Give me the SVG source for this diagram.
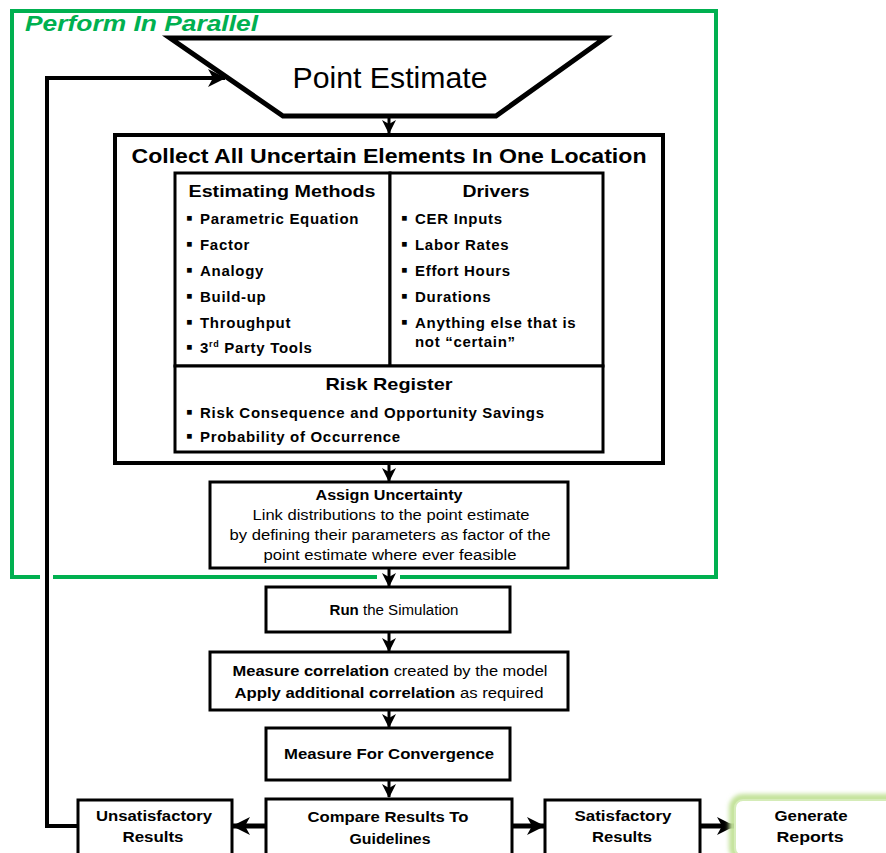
<svg xmlns="http://www.w3.org/2000/svg" width="886" height="853" viewBox="0 0 886 853">
<style>
text{font-family:"Liberation Sans",Arial,sans-serif;fill:#000}
.b{font-weight:bold}
.box{fill:#fff;stroke:#000;stroke-width:3}
.ln{fill:none;stroke:#000;stroke-width:3}
.lnb{fill:none;stroke:#000;stroke-width:5}
.c{text-anchor:middle}
.blt{font-size:15px;font-weight:bold;letter-spacing:0.7px}
.dot{font-size:19px;letter-spacing:0}
</style>
<defs>
<marker id="ah" markerUnits="userSpaceOnUse" markerWidth="14" markerHeight="14" viewBox="0 0 14 14" refX="13" refY="7" orient="auto">
<path d="M0,0 L14,7 L0,14 L4,7 z" fill="#000"/>
</marker>
<marker id="ahb" markerUnits="userSpaceOnUse" markerWidth="18" markerHeight="18" viewBox="0 0 18 18" refX="17" refY="9" orient="auto">
<path d="M0,0 L18,9 L0,18 L5,9 z" fill="#000"/>
</marker>
<filter id="glow" x="-20%" y="-30%" width="140%" height="160%">
<feGaussianBlur stdDeviation="2"/>
</filter>
</defs>

<g id="frame">
<path d="M40,577 H12 V11 H716 V577 H400 M377,577 H53" fill="none" stroke="#00B050" stroke-width="4"/>
<text x="25" y="31" class="b" font-style="italic" font-size="22" style="fill:#00B050" textLength="233" lengthAdjust="spacingAndGlyphs">Perform In Parallel</text>
</g>

<g id="connectors">
<polyline class="lnb" points="78,826 47,826 47,78 225,78" marker-end="url(#ahb)" style="stroke-width:4"/>
<line class="ln" x1="389" y1="116" x2="389" y2="133" marker-end="url(#ah)"/>
<line class="ln" x1="389" y1="463" x2="389" y2="481" marker-end="url(#ah)"/>
<line class="ln" x1="389" y1="568" x2="389" y2="586" marker-end="url(#ah)"/>
<line class="ln" x1="389" y1="632" x2="389" y2="651" marker-end="url(#ah)"/>
<line class="ln" x1="389" y1="710" x2="389" y2="727" marker-end="url(#ah)"/>
<line class="ln" x1="389" y1="780" x2="389" y2="797" marker-end="url(#ah)"/>
<line class="lnb" x1="266" y1="826" x2="233" y2="826" marker-end="url(#ahb)"/>
<line class="lnb" x1="512" y1="826" x2="544" y2="826" marker-end="url(#ahb)"/>
<line class="lnb" x1="700" y1="826" x2="734" y2="826" marker-end="url(#ahb)"/>
</g>

<g id="point-estimate">
<polygon points="170,38 605,38 496,116 283,116" fill="#fff" stroke="#000" stroke-width="5" stroke-linejoin="miter"/>
<text x="390" y="88" class="c" font-size="30" textLength="195" lengthAdjust="spacingAndGlyphs">Point Estimate</text>
</g>

<g id="collect">
<rect x="115" y="135" width="548" height="328" fill="#fff" stroke="#000" stroke-width="4"/>
<text x="389" y="163" class="c b" font-size="20" textLength="515" lengthAdjust="spacingAndGlyphs">Collect All Uncertain Elements In One Location</text>
</g>

<g id="estimating-methods">
<rect x="175" y="173" width="215" height="193" class="box"/>
<text x="282" y="197" class="c b" font-size="17" textLength="187" lengthAdjust="spacingAndGlyphs">Estimating Methods</text>
<text x="186" y="224" class="blt"><tspan class="dot">▪</tspan><tspan x="200">Parametric Equation</tspan></text>
<text x="186" y="250" class="blt"><tspan class="dot">▪</tspan><tspan x="200">Factor</tspan></text>
<text x="186" y="276" class="blt"><tspan class="dot">▪</tspan><tspan x="200">Analogy</tspan></text>
<text x="186" y="302" class="blt"><tspan class="dot">▪</tspan><tspan x="200">Build-up</tspan></text>
<text x="186" y="328" class="blt"><tspan class="dot">▪</tspan><tspan x="200">Throughput</tspan></text>
<text x="186" y="353" class="blt"><tspan class="dot">▪</tspan><tspan x="200">3</tspan><tspan font-size="9" dy="-6">rd</tspan><tspan dy="6"> Party Tools</tspan></text>
</g>

<g id="drivers">
<rect x="390" y="173" width="213" height="193" class="box"/>
<text x="496" y="197" class="c b" font-size="17" textLength="67" lengthAdjust="spacingAndGlyphs">Drivers</text>
<text x="401" y="224" class="blt"><tspan class="dot">▪</tspan><tspan x="415">CER Inputs</tspan></text>
<text x="401" y="250" class="blt"><tspan class="dot">▪</tspan><tspan x="415">Labor Rates</tspan></text>
<text x="401" y="276" class="blt"><tspan class="dot">▪</tspan><tspan x="415">Effort Hours</tspan></text>
<text x="401" y="302" class="blt"><tspan class="dot">▪</tspan><tspan x="415">Durations</tspan></text>
<text x="401" y="328" class="blt"><tspan class="dot">▪</tspan><tspan x="415">Anything else that is</tspan></text>
<text x="415" y="347" class="blt">not “certain”</text>
</g>

<g id="risk-register">
<rect x="175" y="366" width="428" height="86" class="box"/>
<text x="389" y="390" class="c b" font-size="17" textLength="127" lengthAdjust="spacingAndGlyphs">Risk Register</text>
<text x="186" y="418" class="blt"><tspan class="dot">▪</tspan><tspan x="200">Risk Consequence and Opportunity Savings</tspan></text>
<text x="186" y="442" class="blt"><tspan class="dot">▪</tspan><tspan x="200">Probability of Occurrence</tspan></text>
</g>

<g id="assign-uncertainty">
<rect x="210" y="482" width="358" height="86" class="box"/>
<text x="389" y="500" class="c b" font-size="14" textLength="147" lengthAdjust="spacingAndGlyphs">Assign Uncertainty</text>
<text x="391" y="520" class="c" font-size="14" textLength="277" lengthAdjust="spacingAndGlyphs">Link distributions to the point estimate</text>
<text x="390" y="540" class="c" font-size="14" textLength="321" lengthAdjust="spacingAndGlyphs">by defining their parameters as factor of the</text>
<text x="390" y="560" class="c" font-size="14" textLength="253" lengthAdjust="spacingAndGlyphs">point estimate where ever feasible</text>
</g>

<g id="run-simulation">
<rect x="266" y="587" width="244" height="45" class="box"/>
<text x="394" y="615" class="c" font-size="14" textLength="129" lengthAdjust="spacingAndGlyphs"><tspan class="b">Run</tspan> the Simulation</text>
</g>

<g id="measure-correlation">
<rect x="210" y="652" width="358" height="58" class="box"/>
<text x="390" y="676" class="c" font-size="14" textLength="315" lengthAdjust="spacingAndGlyphs"><tspan class="b">Measure correlation</tspan> created by the model</text>
<text x="389" y="698" class="c" font-size="14" textLength="309" lengthAdjust="spacingAndGlyphs"><tspan class="b">Apply additional correlation</tspan> as required</text>
</g>

<g id="convergence">
<rect x="266" y="728" width="244" height="52" class="box"/>
<text x="389" y="759" class="c b" font-size="14" textLength="210" lengthAdjust="spacingAndGlyphs">Measure For Convergence</text>
</g>

<g id="compare">
<rect x="266" y="799" width="246" height="56" class="box"/>
<text x="388" y="822" class="c b" font-size="14" textLength="161" lengthAdjust="spacingAndGlyphs">Compare Results To</text>
<text x="390" y="844" class="c b" font-size="14" textLength="81" lengthAdjust="spacingAndGlyphs">Guidelines</text>
</g>

<g id="unsatisfactory">
<rect x="78" y="800" width="154" height="55" class="box"/>
<text x="154" y="821" class="c b" font-size="14" textLength="116" lengthAdjust="spacingAndGlyphs">Unsatisfactory</text>
<text x="153" y="842" class="c b" font-size="14" textLength="61" lengthAdjust="spacingAndGlyphs">Results</text>
</g>

<g id="satisfactory">
<rect x="545" y="800" width="155" height="55" class="box"/>
<text x="623" y="821" class="c b" font-size="14" textLength="97" lengthAdjust="spacingAndGlyphs">Satisfactory</text>
<text x="622" y="842" class="c b" font-size="14" textLength="60" lengthAdjust="spacingAndGlyphs">Results</text>
</g>

<g id="generate-reports">
<rect x="733" y="798" width="170" height="60" rx="10" fill="none" stroke="#c3e29a" stroke-width="8" filter="url(#glow)"/>
<rect x="735" y="800" width="166" height="56" rx="8" fill="#fff" stroke="#d5ecb8" stroke-width="2"/>
<text x="811" y="821" class="c b" font-size="14" textLength="73" lengthAdjust="spacingAndGlyphs">Generate</text>
<text x="810" y="842" class="c b" font-size="14" textLength="67" lengthAdjust="spacingAndGlyphs">Reports</text>
</g>
</svg>
